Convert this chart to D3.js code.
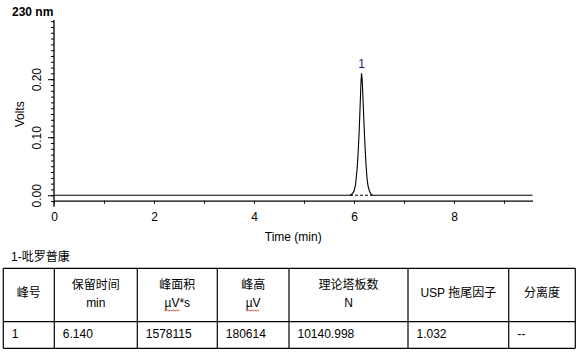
<!DOCTYPE html>
<html>
<head>
<meta charset="utf-8">
<script src="https://cdn.jsdelivr.net/npm/d3@7"></script>
<style>
  body { margin: 0; background: #fff; }
  text { font-family: "Liberation Sans", Arial, "Noto Sans CJK SC", sans-serif; }
</style>
</head>
<body>
<div class="canvas"></div>
<script>
// chromatogram trace (time in min, signal in volts)
const traceTime  = [0, 5.80, 5.92, 5.96, 6.00, 6.03, 6.06, 6.08, 6.10, 6.12, 6.13, 6.14, 6.15, 6.16, 6.17, 6.18, 6.20, 6.22, 6.24, 6.26, 6.28, 6.31, 6.34, 6.37, 9.57];
const traceVolts = [0, 0.000, 0.000, 0.002, 0.007, 0.018, 0.043, 0.069, 0.103, 0.148, 0.172, 0.195, 0.210, 0.203, 0.188, 0.165, 0.123, 0.085, 0.053, 0.030, 0.016, 0.007, 0.002, 0.000, 0];

// integration baseline under the peak
const peakStart = 5.92;
const peakEnd = 6.37;
const peakApex = 6.15;
const peakTop = 0.210;
const peakName = "1";

const xTicks = [0, 2, 4, 6, 8];
const yTicks = [0.00, 0.10, 0.20];

const tableTitle = "1-吡罗普康";
const headerLine1 = ["峰号", "保留时间", "峰面积", "峰高", "理论塔板数", "USP 拖尾因子", "分离度"];
const headerLine2 = ["", "min", "µV*s", "µV", "N", "", ""];
const rowValues = ["1", "6.140", "1578115", "180614", "10140.998", "1.032", "--"];

const W = 581, H = 353;
const margin = { top: 20, left: 54, right: 48, bottom: 152 };

const svg = d3.select(".canvas").append("svg")
    .attr("width", W).attr("height", H);

const x = d3.scaleLinear().domain([0, 9.57]).range([54, 532.5]);
const y = d3.scaleLinear().domain([-0.0094, 0.302]).range([200.7, 20]);

// x axis
const xAxis = svg.append("g")
    .attr("transform", `translate(0,${y.range()[0]})`)
    .call(d3.axisBottom(x).tickValues(d3.range(0, 10, 1)).tickSize(3).tickSizeOuter(0)
        .tickFormat(d => xTicks.includes(d) ? d : ""));
xAxis.select(".domain").attr("stroke", "#000").attr("stroke-width", 1.3);
xAxis.selectAll(".tick line").attr("stroke", "#000");
xAxis.selectAll(".tick text").attr("dy", "1.2em")
    .style("font-size", "12px").attr("fill", "#000");

// y axis minor ticks
const yMinor = svg.append("g")
    .attr("transform", `translate(${x(0)},0)`)
    .call(d3.axisLeft(y).tickValues(d3.range(-0.01, 0.305, 0.01)).tickSize(3).tickFormat(""));
yMinor.select(".domain").remove();
yMinor.selectAll(".tick line").attr("stroke", "#000");

// y axis major ticks
const yAxis = svg.append("g")
    .attr("transform", `translate(${x(0)},0)`)
    .call(d3.axisLeft(y).tickValues(yTicks).tickSize(6).tickFormat(d3.format(".2f")));
yAxis.select(".domain").remove();
yAxis.selectAll(".tick line").attr("stroke", "#000");
yAxis.selectAll(".tick text")
    .attr("x", 0).attr("dy", 0)
    .attr("transform", "translate(-13,0) rotate(-90)")
    .attr("text-anchor", "middle")
    .style("font-size", "12px").attr("fill", "#000");

svg.append("line")
    .attr("x1", x(0)).attr("x2", x(0))
    .attr("y1", y.range()[1]).attr("y2", y.range()[0] + 6)
    .attr("stroke", "#000").attr("stroke-width", 1.3);

// trace
const trace = traceTime.map((t, i) => ({ t: t, v: traceVolts[i] }));
const line = d3.line().x(d => x(d.t)).y(d => y(d.v));

svg.append("line")
    .attr("x1", x(peakStart)).attr("x2", x(peakEnd))
    .attr("y1", y(0)).attr("y2", y(0))
    .attr("stroke", "#000").attr("stroke-width", 1)
    .attr("stroke-dasharray", "3,2");

svg.append("path")
    .datum(trace)
    .attr("fill", "none")
    .attr("stroke", "#000")
    .attr("stroke-width", 1.1)
    .attr("d", line);

svg.append("text")
    .attr("x", x(peakApex)).attr("y", y(peakTop) - 5)
    .attr("text-anchor", "middle")
    .style("font-size", "12px").attr("fill", "#1c1c78")
    .text(peakName);

// titles
svg.append("text")
    .attr("x", 12).attr("y", 16)
    .style("font-size", "12px").style("font-weight", "bold")
    .text("230 nm");

svg.append("text")
    .attr("transform", `translate(24,${(y.range()[0] + y.range()[1]) / 2 + 4}) rotate(-90)`)
    .attr("text-anchor", "middle")
    .style("font-size", "12px")
    .text("Volts");

svg.append("text")
    .attr("x", (x(0) + x(9.57)) / 2).attr("y", 241)
    .attr("text-anchor", "middle")
    .style("font-size", "12px")
    .text("Time (min)");

// table
svg.append("text")
    .attr("x", 11).attr("y", 261)
    .style("font-size", "12px")
    .text(tableTitle);

const colEdges = [3.3, 54.3, 137.3, 217.3, 289, 408, 508.7, 575.3];
const rowEdges = [268.3, 321.7, 348.3];
const tbl = svg.append("g");

tbl.selectAll(".hline").data(rowEdges).join("line")
    .attr("x1", colEdges[0]).attr("x2", colEdges[colEdges.length - 1])
    .attr("y1", d => d).attr("y2", d => d)
    .attr("stroke", "#000").attr("stroke-width", 1.2);
tbl.selectAll(".vline").data(colEdges).join("line")
    .attr("x1", d => d).attr("x2", d => d)
    .attr("y1", rowEdges[0]).attr("y2", rowEdges[2])
    .attr("stroke", "#000").attr("stroke-width", 1.2);

headerLine1.forEach((h, i) => {
  const cx = (colEdges[i] + colEdges[i + 1]) / 2;
  const two = headerLine2[i] !== "";
  tbl.append("text")
      .attr("x", cx).attr("y", two ? 289 : 297)
      .attr("text-anchor", "middle")
      .style("font-size", "12px")
      .text(h);
  if (two) {
    const t = tbl.append("text")
        .attr("x", cx).attr("y", 307)
        .attr("text-anchor", "middle")
        .style("font-size", "12px")
        .text(headerLine2[i]);
    if (headerLine2[i].startsWith("µV")) {
      const bb = t.node().getBBox();
      const w = headerLine2[i] === "µV" ? bb.width : bb.width * 0.62;
      const pts = d3.range(0, Math.floor(w / 1.5) + 1).map(k => [bb.x + k * 1.5, 310 + (k % 2 ? 1 : 0)]);
      tbl.append("path").attr("d", d3.line()(pts))
          .attr("fill", "none").attr("stroke", "#e02020").attr("stroke-width", 0.8);
    }
  }
});

rowValues.forEach((v, i) => {
  tbl.append("text")
      .attr("x", colEdges[i] + 8.5).attr("y", 337.5)
      .style("font-size", "12px")
      .text(v);
});
</script>
</body>
</html>
